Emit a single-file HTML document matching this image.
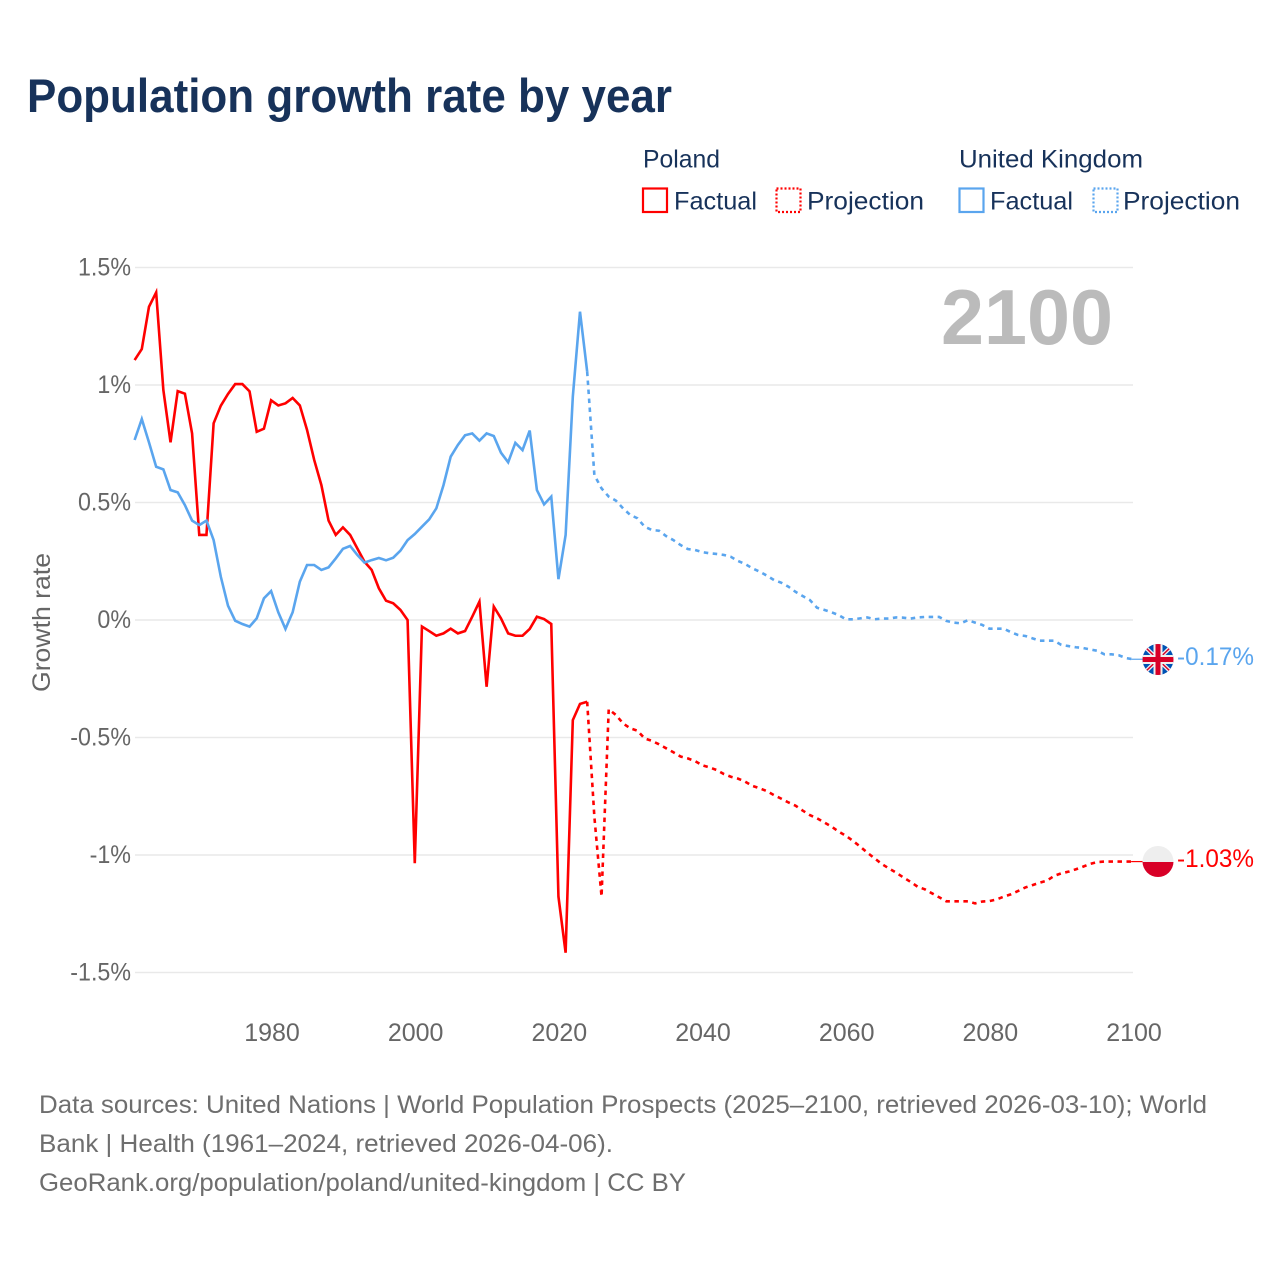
<!DOCTYPE html>
<html lang="en">
<head>
<meta charset="utf-8">
<title>Population growth rate by year</title>
<style>
html,body{margin:0;padding:0;background:#fff;width:1280px;height:1280px;overflow:hidden}
svg{display:block}
text{font-family:"Liberation Sans",sans-serif}
.leg{font-size:25px;fill:#17325a}
.foot{font-size:25px;fill:#6e6e6e}
.tick{font-size:25px;fill:#666}
</style>
</head>
<body>
<svg id="chart" width="1280" height="1280" viewBox="0 0 1280 1280" xmlns="http://www.w3.org/2000/svg">
  <defs>
    <clipPath id="flag-clip-uk"><circle cx="1158" cy="659.5" r="15.5"/></clipPath>
    <clipPath id="flag-clip-pl"><circle cx="1158" cy="861.5" r="15.5"/></clipPath>
  </defs>

  <text x="27" y="112" font-size="47" font-weight="700" fill="#17325a" textLength="645" lengthAdjust="spacingAndGlyphs">Population growth rate by year</text>

  <g>
    <text class="leg" x="643" y="167.5" textLength="77" lengthAdjust="spacingAndGlyphs">Poland</text>
    <rect x="643" y="188.5" width="24" height="23.5" fill="none" stroke="#ff0000" stroke-width="2.2"/>
    <text class="leg" x="674" y="209.5" textLength="83" lengthAdjust="spacingAndGlyphs">Factual</text>
    <rect x="776.5" y="188.5" width="24" height="23.5" fill="none" stroke="#ff0000" stroke-width="2.2" stroke-dasharray="2 2"/>
    <text class="leg" x="807" y="209.5" textLength="117" lengthAdjust="spacingAndGlyphs">Projection</text>
    <text class="leg" x="959" y="167.5" textLength="184" lengthAdjust="spacingAndGlyphs">United Kingdom</text>
    <rect x="959.5" y="188.5" width="24" height="23.5" fill="none" stroke="#5aa5ee" stroke-width="2.2"/>
    <text class="leg" x="990" y="209.5" textLength="83" lengthAdjust="spacingAndGlyphs">Factual</text>
    <rect x="1093.5" y="188.5" width="24" height="23.5" fill="none" stroke="#5aa5ee" stroke-width="2.2" stroke-dasharray="2 2"/>
    <text class="leg" x="1123" y="209.5" textLength="117" lengthAdjust="spacingAndGlyphs">Projection</text>
  </g>

  <g id="grid"></g>
  <g id="yticks"></g>
  <g id="xticks"></g>

  <text class="tick" transform="translate(50,692) rotate(-90)" x="0" y="0" textLength="139" lengthAdjust="spacingAndGlyphs">Growth rate</text>

  <text x="941" y="344" font-size="78" font-weight="700" fill="#bbbbbb" textLength="172" lengthAdjust="spacingAndGlyphs">2100</text>

  <g id="series"></g>

  <g clip-path="url(#flag-clip-uk)">
    <rect x="1142" y="644" width="32" height="32" fill="#0052b4"/>
    <path d="M1142 644L1174 675M1174 644L1142 675" stroke="#f0f0f0" stroke-width="4"/>
    <path d="M1142 644L1174 675M1174 644L1142 675" stroke="#d80027" stroke-width="1.4"/>
    <rect x="1153.5" y="644" width="9" height="32" fill="#f0f0f0"/>
    <rect x="1142" y="655" width="32" height="9" fill="#f0f0f0"/>
    <rect x="1155.5" y="644" width="5" height="32" fill="#d80027"/>
    <rect x="1142" y="657" width="32" height="5" fill="#d80027"/>
  </g>
  <g clip-path="url(#flag-clip-pl)">
    <rect x="1142" y="846" width="32" height="16" fill="#eeeeee"/>
    <rect x="1142" y="862" width="32" height="16" fill="#d80027"/>
  </g>

  <text x="1177" y="665" font-size="25" fill="#5aa5ee" textLength="77" lengthAdjust="spacingAndGlyphs">-0.17%</text>
  <text x="1177" y="867" font-size="25" fill="#ff0000" textLength="77" lengthAdjust="spacingAndGlyphs">-1.03%</text>

  <g>
    <text class="foot" x="39" y="1113" textLength="1168" lengthAdjust="spacingAndGlyphs">Data sources: United Nations | World Population Prospects (2025–2100, retrieved 2026-03-10); World</text>
    <text class="foot" x="39" y="1152" textLength="574" lengthAdjust="spacingAndGlyphs">Bank | Health (1961–2024, retrieved 2026-04-06).</text>
    <text class="foot" x="39" y="1191" textLength="647" lengthAdjust="spacingAndGlyphs">GeoRank.org/population/poland/united-kingdom | CC BY</text>
  </g>
</svg>
<script>
const yTickValues = [1.5, 1, 0.5, 0, -0.5, -1, -1.5];
const yTickLabels = ["1.5%", "1%", "0.5%", "0%", "-0.5%", "-1%", "-1.5%"];
const xTickYears = [1980, 2000, 2020, 2040, 2060, 2080, 2100];
const factualStartYear = 1961;
const projectionStartYear = 2024;

const polandFactual = [
  1.106,1.153,1.333,1.394,0.979,0.756,0.974,0.963,0.794,0.362,
  0.362,0.837,0.912,0.962,1.004,1.004,0.973,0.801,0.814,0.935,
  0.913,0.922,0.945,0.913,0.809,0.681,0.574,0.423,0.362,0.394,
  0.362,0.305,0.248,0.213,0.135,0.082,0.071,0.043,0.0,-1.035,
  -0.028,-0.047,-0.067,-0.057,-0.037,-0.057,-0.047,0.014,0.078,-0.284,
  0.057,0.007,-0.057,-0.067,-0.067,-0.038,0.014,0.004,-0.017,-1.177,
  -1.416,-0.426,-0.357,-0.348
];
const polandProjection = [
  -0.348,-0.837,-1.177,-0.38,-0.404,-0.44,-0.461,-0.471,-0.504,-0.514,
  -0.529,-0.546,-0.563,-0.581,-0.589,-0.6,-0.618,-0.627,-0.638,-0.655,
  -0.667,-0.675,-0.688,-0.706,-0.716,-0.728,-0.745,-0.76,-0.776,-0.79,
  -0.811,-0.83,-0.844,-0.861,-0.879,-0.9,-0.918,-0.94,-0.964,-0.99,
  -1.014,-1.038,-1.057,-1.075,-1.095,-1.114,-1.135,-1.146,-1.163,-1.18,
  -1.197,-1.197,-1.197,-1.197,-1.206,-1.198,-1.196,-1.189,-1.177,-1.167,
  -1.153,-1.138,-1.128,-1.118,-1.109,-1.089,-1.078,-1.071,-1.061,-1.05,
  -1.038,-1.03,-1.028,-1.028,-1.028,-1.028,-1.028
];
const ukFactual = [
  0.766,0.855,0.756,0.652,0.641,0.553,0.543,0.489,0.423,0.404,
  0.423,0.34,0.184,0.061,-0.003,-0.017,-0.028,0.007,0.092,0.123,
  0.033,-0.038,0.033,0.163,0.234,0.234,0.213,0.224,0.262,0.303,
  0.315,0.277,0.244,0.255,0.264,0.254,0.265,0.295,0.34,0.366,
  0.397,0.428,0.475,0.574,0.695,0.745,0.786,0.794,0.763,0.794,
  0.783,0.712,0.671,0.754,0.723,0.806,0.553,0.492,0.525,0.174,
  0.362,0.95,1.312,1.057
];
const ukProjection = [
  1.057,0.617,0.56,0.525,0.508,0.475,0.447,0.433,0.397,0.383,
  0.38,0.357,0.34,0.319,0.302,0.298,0.289,0.284,0.281,0.277,
  0.269,0.251,0.238,0.22,0.206,0.189,0.17,0.159,0.142,0.12,
  0.102,0.085,0.052,0.043,0.033,0.021,0.003,0.003,0.007,0.011,
  0.003,0.006,0.006,0.011,0.01,0.006,0.011,0.013,0.013,0.013,
  -0.004,-0.011,-0.014,-0.001,-0.011,-0.021,-0.037,-0.037,-0.037,-0.052,
  -0.064,-0.068,-0.078,-0.088,-0.088,-0.088,-0.106,-0.111,-0.116,-0.119,
  -0.125,-0.131,-0.146,-0.146,-0.15,-0.162,-0.167
];

const svgNS = "http://www.w3.org/2000/svg";
function xScale(year){ return 272 + (year - 1980) * 7.1835; }
function seriesX(year){ return xScale(year) - 0.9; }
function yScale(value){ return 620 - value * 235; }
function pointsFor(values, startYear){
  return values.map(function(v, i){
    return seriesX(startYear + i).toFixed(2) + "," + yScale(v).toFixed(2);
  }).join(" ");
}

const gridGroup = document.getElementById("grid");
const yGroup = document.getElementById("yticks");
const xGroup = document.getElementById("xticks");
const seriesGroup = document.getElementById("series");

yTickValues.forEach(function(v, i){
  const line = document.createElementNS(svgNS, "line");
  line.setAttribute("x1", 135);
  line.setAttribute("x2", 1133);
  line.setAttribute("y1", yScale(v));
  line.setAttribute("y2", yScale(v));
  line.setAttribute("stroke", "#e9e9e9");
  line.setAttribute("stroke-width", "1.5");
  
  
  gridGroup.appendChild(line);

  const label = document.createElementNS(svgNS, "text");
  label.setAttribute("class", "tick");
  label.setAttribute("x", 131);
  label.setAttribute("y", yScale(v) + 8);
  label.setAttribute("text-anchor", "end");
  
  
  label.textContent = yTickLabels[i];
  yGroup.appendChild(label);
  label.setAttribute("textLength", (label.getComputedTextLength() * 0.93).toFixed(1));
  label.setAttribute("lengthAdjust", "spacingAndGlyphs");
});

xTickYears.forEach(function(year){
  const label = document.createElementNS(svgNS, "text");
  label.setAttribute("class", "tick");
  label.setAttribute("x", xScale(year));
  label.setAttribute("y", 1041);
  label.setAttribute("text-anchor", "middle");
  
  
  label.textContent = String(year);
  xGroup.appendChild(label);
});

function drawLine(values, startYear, color, dashed, name){
  const poly = document.createElementNS(svgNS, "polyline");
  poly.setAttribute("points", pointsFor(values, startYear));
  poly.setAttribute("fill", "none");
  poly.setAttribute("stroke", color);
  poly.setAttribute("stroke-width", "2.6");
  poly.setAttribute("stroke-linejoin", "miter");
  if (dashed) { poly.setAttribute("stroke-dasharray", "4.5 4.5"); }
  
  
  seriesGroup.appendChild(poly);
}

function drawConnector(values, color, name){
  const lastValue = values[values.length - 1];
  const line = document.createElementNS(svgNS, "line");
  line.setAttribute("x1", seriesX(2100) - 2);
  line.setAttribute("x2", 1143);
  line.setAttribute("y1", yScale(lastValue));
  line.setAttribute("y2", yScale(lastValue));
  line.setAttribute("stroke", color);
  line.setAttribute("stroke-width", "1.2");
  
  
  seriesGroup.appendChild(line);
}

drawLine(polandFactual, factualStartYear, "#ff0000", false, "line-poland-factual");
drawLine(polandProjection, projectionStartYear, "#ff0000", true, "line-poland-projection");
drawConnector(polandProjection, "#ff0000", "connector-poland-flag");
drawLine(ukFactual, factualStartYear, "#5aa5ee", false, "line-uk-factual");
drawLine(ukProjection, projectionStartYear, "#5aa5ee", true, "line-uk-projection");
drawConnector(ukProjection, "#5aa5ee", "connector-uk-flag");
</script>
</body>
</html>
